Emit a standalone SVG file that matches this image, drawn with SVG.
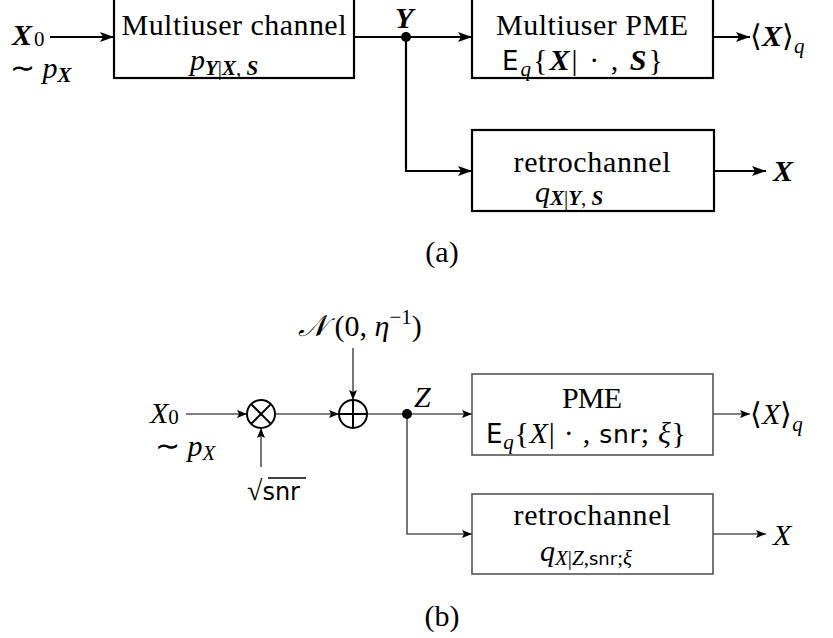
<svg xmlns="http://www.w3.org/2000/svg" width="833" height="638" viewBox="0 0 833 638">
<defs>
<marker id="ah" viewBox="0 0 14 10" refX="14" refY="5" markerWidth="14" markerHeight="10" markerUnits="userSpaceOnUse" orient="auto"><path d="M0,0 L14,5 L0,10 L3,5 Z" fill="#000"/></marker>
<marker id="ahs" viewBox="0 0 10 8" refX="10" refY="4" markerWidth="10" markerHeight="8" markerUnits="userSpaceOnUse" orient="auto"><path d="M0,0 L10,4 L0,8 L2,4 Z" fill="#000"/></marker>
</defs>
<style>
text{font-family:"Liberation Serif","Times New Roman",serif;fill:#000;}
.t{font-size:30px;}
.bi{font-weight:bold;font-style:italic;}
.i{font-style:italic;}
.sf{font-family:"DejaVu Sans","Liberation Sans",sans-serif;}
.sub{font-size:21px;}
.box{fill:#fff;stroke:#000;stroke-width:2.2;}
.boxg{fill:#fff;stroke:#555;stroke-width:1.6;}
.w{fill:none;stroke:#000;stroke-width:2.2;}
.wg{fill:none;stroke:#555;stroke-width:1.6;}
.circ{fill:#fff;stroke:#000;stroke-width:2;}
</style>
<rect width="833" height="638" fill="#fff"/>

<g id="connectors">
<line class="w" x1="50" y1="37" x2="114" y2="37" marker-end="url(#ah)"/>
<line class="w" x1="354" y1="37" x2="472" y2="37" marker-end="url(#ah)"/>
<polyline class="w" points="406,37 406,171 472,171" marker-end="url(#ah)"/>
<line class="w" x1="713" y1="37" x2="750" y2="37" marker-end="url(#ah)"/>
<line class="w" x1="714" y1="171" x2="766" y2="171" marker-end="url(#ah)"/>
<circle cx="406" cy="37" r="5" fill="#000"/>

<line class="wg" x1="186" y1="414" x2="247" y2="414" marker-end="url(#ahs)"/>
<line class="wg" x1="261" y1="467" x2="261" y2="428" marker-end="url(#ahs)"/>
<line class="wg" x1="275" y1="414" x2="339" y2="414" marker-end="url(#ahs)"/>
<line class="wg" x1="353" y1="348" x2="353" y2="400" marker-end="url(#ahs)"/>
<line class="wg" x1="367" y1="414" x2="472" y2="414" marker-end="url(#ahs)"/>
<polyline class="wg" points="407,414 407,534 472,534" marker-end="url(#ahs)"/>
<line class="wg" x1="713" y1="414" x2="750" y2="414" marker-end="url(#ahs)"/>
<line class="wg" x1="713" y1="534" x2="766" y2="534" marker-end="url(#ahs)"/>
<circle cx="407" cy="414" r="5" fill="#000"/>
</g>

<g id="input-a">
<text class="t" x="12" y="45"><tspan class="bi">X</tspan><tspan class="sub" dx="2" dy="1">0</tspan></text>
<text class="t" x="10" y="78" font-size="28">∼ <tspan class="i">p</tspan><tspan class="sub bi" dy="4">X</tspan></text>
</g>

<g id="channel">
<rect class="box" x="114" y="-10" width="240" height="88"/>
<text class="t" x="234" y="35" text-anchor="middle" textLength="225" lengthAdjust="spacing">Multiuser channel</text>
<text class="t" x="190" y="70"><tspan class="i">p</tspan><tspan class="sub" dy="5"><tspan class="bi">Y</tspan>|<tspan class="bi">X</tspan>, <tspan class="bi">S</tspan></tspan></text>
</g>

<g id="Y-label"><text class="t bi" x="395" y="28">Y</text></g>

<g id="pme-a">
<rect class="box" x="472" y="-10" width="241" height="88"/>
<text class="t" x="592" y="35" text-anchor="middle" textLength="192" lengthAdjust="spacing">Multiuser PME</text>
<text class="t" x="502" y="70" textLength="161" lengthAdjust="spacing"><tspan class="sf" font-size="26">E</tspan><tspan class="sub i" dy="6">q</tspan><tspan dy="-6">{</tspan><tspan class="bi">X</tspan>| · , <tspan class="bi">S</tspan>}</text>
</g>

<g id="out-a1"><text class="t" x="750" y="46">⟨<tspan class="bi">X</tspan>⟩<tspan class="sub i" dy="7">q</tspan></text></g>

<g id="retro-a">
<rect class="box" x="472" y="130" width="242" height="81"/>
<text class="t" x="592" y="172" text-anchor="middle" textLength="157" lengthAdjust="spacing">retrochannel</text>
<text class="t" x="535" y="202"><tspan class="i">q</tspan><tspan class="sub" dy="3"><tspan class="bi">X</tspan>|<tspan class="bi">Y</tspan>, <tspan class="bi">S</tspan></tspan></text>
</g>

<g id="out-a2"><text class="t bi" x="773" y="181">X</text></g>

<g id="cap-a"><text class="t" x="442" y="262" text-anchor="middle" font-size="26">(a)</text></g>

<g id="input-b">
<text class="t" x="150" y="423"><tspan class="i">X</tspan><tspan class="sub" dy="1">0</tspan></text>
<text class="t" x="155" y="456" font-size="28">∼ <tspan class="i">p</tspan><tspan class="sub i" dy="4">X</tspan></text>
</g>

<g id="mult">
<circle class="circ" cx="261" cy="414" r="14"/>
<line x1="251.1" y1="404.1" x2="270.9" y2="423.9" stroke="#000" stroke-width="2"/>
<line x1="251.1" y1="423.9" x2="270.9" y2="404.1" stroke="#000" stroke-width="2"/>
</g>

<g id="snr">
<text x="247" y="500" font-size="28" font-family="DejaVu Sans,sans-serif">√<tspan font-size="24" font-family="DejaVu Sans,sans-serif">snr</tspan></text>
<line x1="268" y1="478" x2="306" y2="478" stroke="#000" stroke-width="1.5"/>
</g>

<g id="add">
<circle class="circ" cx="353" cy="414" r="14"/>
<line x1="339" y1="414" x2="367" y2="414" stroke="#000" stroke-width="2"/>
<line x1="353" y1="400" x2="353" y2="428" stroke="#000" stroke-width="2"/>
</g>

<g id="noise"><text class="t" x="298" y="336"><tspan class="i" font-family="DejaVu Serif,serif">𝒩</tspan> (0, <tspan class="i">η</tspan><tspan class="sub" dy="-12">−1</tspan><tspan dy="12">)</tspan></text></g>

<g id="Z-label"><text class="t i" x="414" y="407">Z</text></g>

<g id="pme-b">
<rect class="boxg" x="472" y="374" width="241" height="81"/>
<text class="t" x="592" y="408" text-anchor="middle" textLength="60" lengthAdjust="spacing">PME</text>
<text class="t" x="486" y="443" textLength="200" lengthAdjust="spacing"><tspan class="sf" font-size="26">E</tspan><tspan class="sub i" dy="6">q</tspan><tspan dy="-6">{</tspan><tspan class="i">X</tspan>| · , <tspan class="sf" font-size="25">snr</tspan>; <tspan class="i">ξ</tspan>}</text>
</g>

<g id="out-b1"><text class="t" x="750" y="424">⟨<tspan class="i">X</tspan>⟩<tspan class="sub i" dy="7">q</tspan></text></g>

<g id="retro-b">
<rect class="boxg" x="472" y="494" width="241" height="80"/>
<text class="t" x="592" y="525" text-anchor="middle" textLength="157" lengthAdjust="spacing">retrochannel</text>
<text class="t" x="540" y="561"><tspan class="i">q</tspan><tspan class="sub" dy="4"><tspan class="i">X</tspan>|<tspan class="i">Z</tspan>,<tspan class="sf" font-size="18">snr</tspan>;<tspan class="i">ξ</tspan></tspan></text>
</g>

<g id="out-b2"><text class="t i" x="773" y="545">X</text></g>

<g id="cap-b"><text class="t" x="442" y="626" text-anchor="middle" font-size="26">(b)</text></g>
</svg>
